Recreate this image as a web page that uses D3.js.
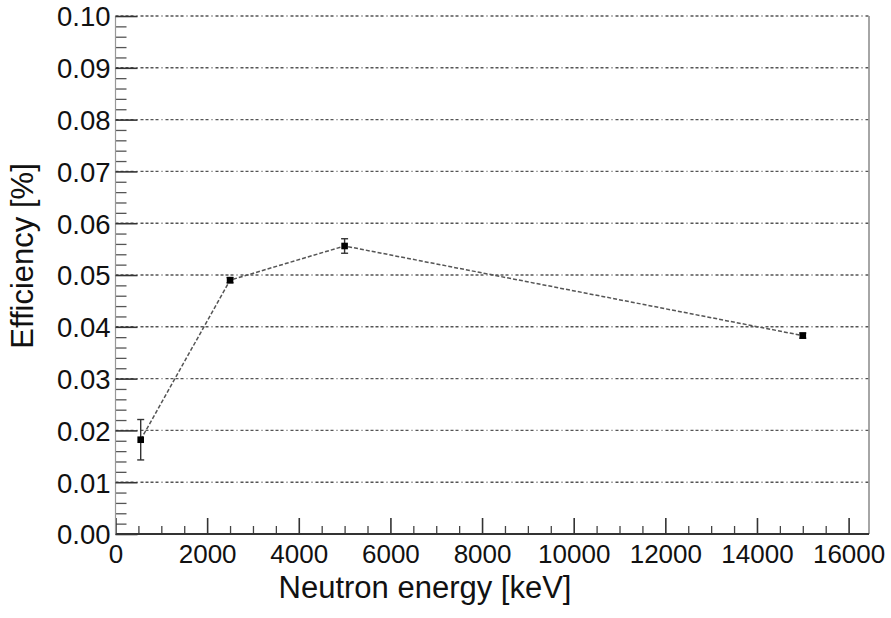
<!DOCTYPE html>
<html>
<head>
<meta charset="utf-8">
<script src="https://cdn.jsdelivr.net/npm/d3@7"></script>
<style>
  body { margin: 0; background: #fff; }
  svg { display: block; }
  text { font-family: "Liberation Sans", Arial, Helvetica, sans-serif; fill: #111; }
</style>
</head>
<body>
<svg id="chart" width="891" height="618"></svg>
<script>
// Measured efficiency vs neutron energy
const energies   = [550, 2500, 5000, 15000];          // keV
const efficiency = [0.0182, 0.0490, 0.0556, 0.0383];  // %
const errors     = [0.0039, 0.0005, 0.0014, 0.0005];  // %

const xTicks = [0, 2000, 4000, 6000, 8000, 10000, 12000, 14000, 16000];
const yTicks = [0.00, 0.01, 0.02, 0.03, 0.04, 0.05, 0.06, 0.07, 0.08, 0.09, 0.10];
const xMinorStep = 500;
const yMinorStep = 0.002;
const xTitle = "Neutron energy [keV]";
const yTitle = "Efficiency [%]";

const svg = d3.select("#chart");
const frame = { left: 115.5, right: 869, top: 16, bottom: 534 };

const x = d3.scaleLinear().domain([0, 16445]).range([frame.left, frame.right]);
const y = d3.scaleLinear().domain([0, 0.1]).range([frame.bottom, frame.top]);

// horizontal grid lines
svg.append("g").selectAll("line")
  .data(yTicks.filter(v => v > 0))
  .join("line")
  .attr("x1", frame.left).attr("x2", frame.right)
  .attr("y1", d => y(d)).attr("y2", d => y(d))
  .attr("stroke", "#555").attr("stroke-width", 1.4)
  .attr("stroke-dasharray", "3,2,3,2,3,2,3,3,1,3");

// right border of the frame
svg.append("line")
  .attr("x1", frame.right).attr("x2", frame.right)
  .attr("y1", frame.top).attr("y2", frame.bottom)
  .attr("stroke", "#888").attr("stroke-width", 1.5);

// minor ticks
const xMinor = d3.range(0, 16445, xMinorStep).filter(v => v % 2000 !== 0);
const yMinor = d3.range(0, 0.1001, yMinorStep).filter(v => Math.abs(Math.round(v * 100) - v * 100) > 1e-6);

const xMinorAxis = d3.axisBottom(x).tickValues(xMinor).tickSizeInner(-8).tickSizeOuter(0).tickFormat("");
const gxm = svg.append("g").attr("transform", `translate(0,${frame.bottom})`).call(xMinorAxis);
gxm.select(".domain").remove();
gxm.selectAll("line").attr("stroke", "#444").attr("stroke-width", 1.3);

const yMinorAxis = d3.axisLeft(y).tickValues(yMinor).tickSizeInner(-11).tickSizeOuter(0).tickFormat("");
const gym = svg.append("g").attr("transform", `translate(${frame.left},0)`).call(yMinorAxis);
gym.select(".domain").remove();
gym.selectAll("line").attr("stroke", "#555").attr("stroke-width", 1.3);

// major axes
const xAxis = d3.axisBottom(x).tickValues(xTicks).tickSizeInner(-16).tickSizeOuter(0)
  .tickFormat(d3.format("d"));
const gx = svg.append("g").attr("transform", `translate(0,${frame.bottom})`).call(xAxis);
gx.select(".domain").attr("stroke", "#333").attr("stroke-width", 2)
  .attr("d", `M${frame.left},0H${frame.right}`);
gx.selectAll(".tick line").attr("stroke", "#333").attr("stroke-width", 1.6);
gx.selectAll(".tick text").attr("y", 29).attr("dy", null)
  .style("font-size", "26px").style("fill", "#111");

const yAxis = d3.axisLeft(y).tickValues(yTicks).tickSizeInner(-22).tickSizeOuter(0)
  .tickFormat(d3.format(".2f"));
const gy = svg.append("g").attr("transform", `translate(${frame.left},0)`).call(yAxis);
gy.select(".domain").attr("stroke", "#999").attr("stroke-width", 1.2)
  .attr("d", `M0,${frame.bottom}V${frame.top}`);
gy.selectAll(".tick line").attr("stroke", "#333").attr("stroke-width", 1.6);
gy.selectAll(".tick text").attr("x", -5).attr("dy", "0.36em")
  .style("font-size", "27.5px").style("fill", "#111");

// axis titles
svg.append("text")
  .attr("x", 425).attr("y", 598)
  .attr("text-anchor", "middle")
  .style("font-size", "31px")
  .text(xTitle);

svg.append("text")
  .attr("transform", `translate(33,256) rotate(-90)`)
  .attr("text-anchor", "middle")
  .style("font-size", "31px")
  .text(yTitle);

// data
const pts = energies.map((e, i) => ({ e, v: efficiency[i], err: errors[i] }));

svg.append("path")
  .datum(pts)
  .attr("fill", "none")
  .attr("stroke", "#555")
  .attr("stroke-width", 1.5)
  .attr("stroke-dasharray", "4,2")
  .attr("d", d3.line().x(d => x(d.e)).y(d => y(d.v)));

const eb = svg.append("g").selectAll("g").data(pts).join("g");
eb.append("line")
  .attr("x1", d => x(d.e)).attr("x2", d => x(d.e))
  .attr("y1", d => y(d.v + d.err)).attr("y2", d => y(d.v - d.err))
  .attr("stroke", "#333").attr("stroke-width", 1.4);
eb.append("line")
  .attr("x1", d => x(d.e) - 3.5).attr("x2", d => x(d.e) + 3.5)
  .attr("y1", d => y(d.v + d.err)).attr("y2", d => y(d.v + d.err))
  .attr("stroke", "#333").attr("stroke-width", 1.4);
eb.append("line")
  .attr("x1", d => x(d.e) - 3.5).attr("x2", d => x(d.e) + 3.5)
  .attr("y1", d => y(d.v - d.err)).attr("y2", d => y(d.v - d.err))
  .attr("stroke", "#333").attr("stroke-width", 1.4);

svg.append("g").selectAll("rect").data(pts).join("rect")
  .attr("x", d => x(d.e) - 3.3).attr("y", d => y(d.v) - 3.3)
  .attr("width", 6.6).attr("height", 6.6)
  .attr("fill", "#000");
</script>
</body>
</html>
